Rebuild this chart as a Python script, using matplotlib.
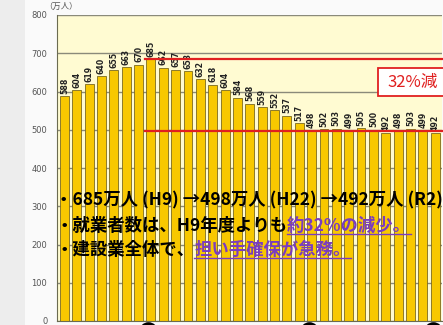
import matplotlib
matplotlib.use("Agg")
import matplotlib.pyplot as plt
from matplotlib.patches import Rectangle
import numpy as np

plt.rcParams['font.family'] = ['Noto Sans CJK JP', 'DejaVu Sans']

values = [588, 604, 619, 640, 655, 663, 670, 685, 662, 657, 653, 632, 618, 604,
          584, 568, 559, 552, 537, 517, 498, 502, 503, 499, 505, 500, 492, 498,
          503, 499, 492]
yticks = [0, 100, 200, 300, 400, 500, 600, 700, 800]
peak_idx = 7
low_value = 498
marker_idx = [7, 20, 30]
line1 = "・685万人 (H9) →498万人 (H22) →492万人 (R2)"
line2_a = "・就業者数は、H9年度よりも"
line2_b = "約32%の減少。"
line3_a = "・建設業全体で、"
line3_b = "担い手確保が急務。"
box_label = "32%減"
unit_label = "（万人）"

W, H = 443, 325
fig = plt.figure(figsize=(W / 100, H / 100), dpi=100, facecolor="#FAFAFA")
fig.patches.append(Rectangle((0, 0), 25 / W, 1, transform=fig.transFigure,
                             facecolor="#EDEDED", edgecolor="none", zorder=0))

ax = fig.add_axes([57 / W, 4 / H, 385 / W, 306 / H])
ax.set_facecolor("#FFFBD2")
x = np.arange(len(values))
ax.set_xlim(-0.6, len(values) - 0.45)
ax.set_ylim(0, 800)
ax.set_yticks(yticks)
ax.set_yticklabels([str(v) for v in yticks], fontsize=6, color="#555555",
                   family="DejaVu Sans")
ax.tick_params(axis="y", length=0, pad=7)
ax.set_xticks([])
ax.yaxis.grid(True, color="#8a8a7a", lw=1.0)
ax.set_axisbelow(True)
for s in ["top", "right"]:
    ax.spines[s].set_visible(False)
ax.spines["left"].set_color("#6b6b50")
ax.spines["bottom"].set_color("#6b6b50")

ax.bar(x, values, width=0.72, color="#F8C800", edgecolor="#7a6a20", lw=0.6, zorder=2)
for xi, v in zip(x, values):
    ax.text(xi, v + 6, str(v), rotation=90, ha="center", va="bottom",
            fontsize=5.6, fontweight="bold", color="#222222",
            family="DejaVu Sans", zorder=3)

ax.plot([peak_idx - 0.5, len(values)], [values[peak_idx]] * 2, color="#E02020",
        lw=1.6, zorder=4, clip_on=False)
ax.plot([peak_idx - 0.5, len(values)], [low_value] * 2, color="#E02020",
        lw=1.6, zorder=4, clip_on=False)

# 32% box (edge continues past the right border)
fig.patches.append(Rectangle((378 / W, 1 - 96 / H), 80 / W, 28 / H,
                             transform=fig.transFigure, facecolor="white",
                             edgecolor="#E02020", lw=1.3, zorder=9))
fig.text(387 / W, 1 - 82 / H, box_label, fontsize=12, color="#E02020",
         ha="left", va="center", zorder=10)

fig.text(44 / W, 1 - 6 / H, unit_label, fontsize=6, color="#555555",
         ha="left", va="center")

# bottom markers (mostly cut off by the figure edge)
for idx in marker_idx:
    ax.plot(idx - 0.2, -27, marker="o", ms=11, mfc="none", mec="black", mew=2.4,
            clip_on=False, zorder=6)

fs = 12.5
purple = "#7A3CC0"
fig.canvas.draw()
r = fig.canvas.get_renderer()

def put(xpx, ypx, s, color):
    t = fig.text(xpx / W, 1 - ypx / H, s, fontsize=fs, fontweight="bold",
                 color=color, ha="left", va="center", zorder=20)
    bb = t.get_window_extent(renderer=r)
    return t, bb

put(55, 200, line1, "black")
t, bb = put(55, 226, line2_a, "black")
t2, bb2 = put(bb.x1, 226, line2_b, purple)
fig.add_artist(plt.Line2D([bb2.x0 / W, bb2.x1 / W], [(bb2.y0 + 1) / H] * 2,
                          color=purple, lw=1.0))
t, bb = put(55, 250, line3_a, "black")
t3, bb3 = put(bb.x1, 250, line3_b, purple)
fig.add_artist(plt.Line2D([bb3.x0 / W, bb3.x1 / W], [(bb3.y0 + 1) / H] * 2,
                          color=purple, lw=1.0))

fig.savefig("out.png", dpi=100, facecolor=fig.get_facecolor())
